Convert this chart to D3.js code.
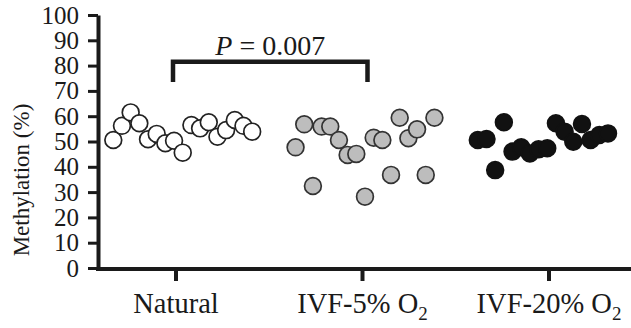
<!DOCTYPE html>
<html><head><meta charset="utf-8">
<script src="https://cdn.jsdelivr.net/npm/d3@7/dist/d3.min.js"></script>
<style>body{margin:0;background:#fff}svg{display:block}</style>
</head><body>
<svg id="c" width="631" height="328"></svg>
<script>
const categories = ["Natural", "IVF-5% O2", "IVF-20% O2"];
const categoryMain = ["Natural", "IVF-5% O", "IVF-20% O"];
const categorySub = ["", "2", "2"];
const naturalValues = [50.6,56.2,61.5,57.2,50.9,53,49.3,50.3,45.6,56.5,55.2,57.6,51.9,54.5,58.5,56.2,53.9];
const ivf5Values = [47.7,56.8,32.4,55.9,55.9,50.6,44.7,45.1,28.2,51.5,50.6,36.8,59.4,51.3,54.8,36.8,59.4];
const ivf20Values = [50.6,51,38.7,57.6,46,47.7,45.3,46.9,47.3,57.2,53.9,49.9,56.9,50.6,52.6,53.2];
const slotStart = [0, 21, 42];
const yTicks = [0,10,20,30,40,50,60,70,80,90,100];
const pLabel = "0.007";

const series = [naturalValues, ivf5Values, ivf20Values];
const fills = ["#ffffff", "#bdbdbd", "#111111"];
const strokes = ["#222", "#333", "#111"];

const svg = d3.select("#c");
const y = d3.scaleLinear().domain([0, 100]).range([268, 15]);
const xCat = d3.scalePoint().domain(categories).range([176, 549]);
const xSlot = d3.scaleLinear().domain([0, 57]).range([113.3, 608]);

const font = "'Liberation Serif', 'Times New Roman', serif";

// Y axis
const yAxis = svg.append("g").attr("transform", "translate(98,0)")
  .call(d3.axisLeft(y).tickValues(yTicks).tickSize(10).tickSizeOuter(0).tickPadding(9));
yAxis.select(".domain").attr("stroke", "#1a1a1a").attr("stroke-width", 4);
yAxis.selectAll(".tick line").attr("stroke", "#1a1a1a").attr("stroke-width", 3);
yAxis.selectAll(".tick text").attr("font-family", font).attr("font-size", 25).attr("fill", "#1a1a1a");

// X axis
const xAxis = svg.append("g").attr("transform", "translate(0,269)");
xAxis.append("line").attr("x1", 96).attr("x2", 631).attr("y1", 0).attr("y2", 0)
  .attr("stroke", "#1a1a1a").attr("stroke-width", 4);
xAxis.selectAll("line.tk").data(categories).join("line").attr("class", "tk")
  .attr("x1", d => xCat(d)).attr("x2", d => xCat(d)).attr("y1", 0).attr("y2", 12)
  .attr("stroke", "#1a1a1a").attr("stroke-width", 4);
const lbl = xAxis.selectAll("text.lb").data(categories).join("text").attr("class", "lb")
  .attr("x", d => xCat(d)).attr("y", 44).attr("text-anchor", "middle")
  .attr("font-family", font).attr("font-size", 28.5).attr("fill", "#1a1a1a");
lbl.each(function(d, i) {
  const t = d3.select(this);
  t.append("tspan").text(categoryMain[i]);
  if (categorySub[i]) t.append("tspan").attr("dy", 7).attr("font-size", 19).text(categorySub[i]);
});

// Y title
svg.append("text").attr("transform", "translate(29,180) rotate(-90)")
  .attr("text-anchor", "middle").attr("font-family", font).attr("font-size", 23)
  .attr("fill", "#1a1a1a").text("Methylation (%)");

// Points
series.forEach((vals, g) => {
  svg.append("g").selectAll("circle").data(vals).join("circle")
    .attr("cx", (d, i) => xSlot(slotStart[g] + i))
    .attr("cy", d => y(d))
    .attr("r", 8.4)
    .attr("fill", fills[g]).attr("stroke", strokes[g]).attr("stroke-width", 1.7);
});

// Significance bracket
const bx1 = xCat(categories[0]) - 3, bx2 = xCat(categories[1]) + 5;
svg.append("path")
  .attr("d", `M${bx1},${y(73.5)}V${y(81.5)}H${bx2}V${y(73.5)}`)
  .attr("fill", "none").attr("stroke", "#1a1a1a").attr("stroke-width", 4.5);
const pt = svg.append("text").attr("x", (bx1 + bx2) / 2).attr("y", 55)
  .attr("text-anchor", "middle").attr("font-family", font).attr("font-size", 28).attr("fill", "#1a1a1a");
pt.append("tspan").attr("font-style", "italic").text("P");
pt.append("tspan").text(" = " + pLabel);
</script>
</body></html>
